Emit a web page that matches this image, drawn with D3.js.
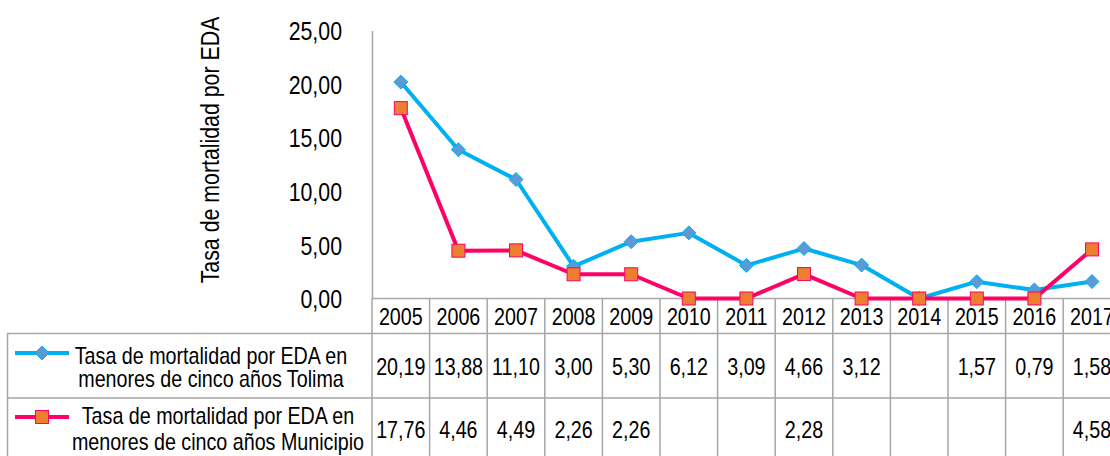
<!DOCTYPE html>
<html>
<head>
<meta charset="utf-8">
<script src="https://cdn.jsdelivr.net/npm/d3@7"></script>
<style>
  body { margin: 0; background: #fff; overflow: hidden; }
  text { font-family: 'Liberation Sans', Arial, sans-serif; fill: #000; }
</style>
</head>
<body>
<div id="chart"></div>
<script>
var years = ['2005','2006','2007','2008','2009','2010','2011','2012','2013','2014','2015','2016','2017']
// blank cells in the table are drawn as 0 on the chart
var tolima = [20.19, 13.88, 11.10, 3.00, 5.30, 6.12, 3.09, 4.66, 3.12, null, 1.57, 0.79, 1.58]
var municipio = [17.76, 4.46, 4.49, 2.26, 2.26, null, null, 2.28, null, null, null, null, 4.58]
var yTicks = [0, 5, 10, 15, 20, 25]
var seriesNames = [
  ['Tasa de mortalidad por EDA en', 'menores de cinco años Tolima'],
  ['Tasa de mortalidad por EDA en', 'menores de cinco años Municipio']
]
var yTitle = 'Tasa de mortalidad por EDA'

var W = 1110, H = 456
var left = 372, colW = 57.6
var grid = '#a6a6a6'

var es = d3.formatLocale({decimal: ',', thousands: '.', grouping: [3], currency: ['', '']})
var fmt = es.format('.2f')

// no Arial Narrow here, so squeeze the regular font
function narrow(sel) {
  sel.each(function() {
    var w = this.getComputedTextLength()
    if (w > 0) d3.select(this).attr('textLength', w * 0.82).attr('lengthAdjust', 'spacingAndGlyphs')
  })
}

var svg = d3.select('#chart').append('svg')
    .attr('width', W)
    .attr('height', H)

var x = d3.scaleBand().domain(years).range([left, left + colW * years.length])
var y = d3.scaleLinear().domain([0, 25]).range([298.5, 30.5])

// y axis
var yAxis = d3.axisLeft(y).tickValues(yTicks).tickSize(0).tickPadding(30).tickFormat(fmt)
var gy = svg.append('g').attr('transform', 'translate(' + left + ',0)').call(yAxis)
gy.select('.domain').attr('stroke', grid).attr('stroke-width', 1.5)
gy.selectAll('text').attr('font-family', null).style('font-size', '26px').attr('dy', '0.35em').call(narrow)

svg.append('text')
    .attr('transform', 'translate(219,' + 150 + ') rotate(-90)')
    .attr('text-anchor', 'middle')
    .style('font-size', '26px')
    .text(yTitle)
    .call(narrow)

// data table
var rowTop = [298.5, 333.5, 398, 470]
var tbl = svg.append('g')

tbl.append('line').attr('x1', left).attr('x2', W + 20).attr('y1', rowTop[0]).attr('y2', rowTop[0])
tbl.append('line').attr('x1', 7).attr('x2', W + 20).attr('y1', rowTop[1]).attr('y2', rowTop[1])
tbl.append('line').attr('x1', 7).attr('x2', W + 20).attr('y1', rowTop[2]).attr('y2', rowTop[2])
tbl.append('line').attr('x1', 7.5).attr('x2', 7.5).attr('y1', rowTop[1]).attr('y2', H + 10)

tbl.selectAll('.vline')
    .data(years.concat(['end']))
  .enter().append('line')
    .attr('class', 'vline')
    .attr('x1', function(d, i) { return left + i * colW })
    .attr('x2', function(d, i) { return left + i * colW })
    .attr('y1', rowTop[0])
    .attr('y2', H + 10)
tbl.selectAll('line').attr('stroke', grid).attr('stroke-width', 1.5)

tbl.selectAll('.year')
    .data(years)
  .enter().append('text')
    .attr('class', 'year')
    .attr('x', function(d) { return x(d) + x.bandwidth() / 2 })
    .attr('y', 325)
    .attr('text-anchor', 'middle')
    .style('font-size', '24px')
    .text(function(d) { return d })
    .call(narrow)

var rows = [tolima, municipio]
var rowBase = [375, 438]
rows.forEach(function(vals, r) {
  tbl.selectAll('.val' + r)
      .data(vals)
    .enter().append('text')
      .attr('class', 'val' + r)
      .attr('x', function(d, i) { return x(years[i]) + x.bandwidth() / 2 })
      .attr('y', rowBase[r])
      .attr('text-anchor', 'middle')
      .style('font-size', '24px')
      .text(function(d) { return d == null ? '' : fmt(d) })
      .call(narrow)
})

// lines
var line = d3.line()
    .x(function(d, i) { return x(years[i]) + x.bandwidth() / 2 })
    .y(function(d) { return y(d == null ? 0 : d) })

var colors = ['#00b0f0', '#ff0066']
var markFill = ['#5b9bd5', '#ed7d31']

function marker(g, r, cx, cy) {
  if (r == 0) {
    g.append('path')
        .attr('d', 'M' + cx + ',' + (cy - 7) + 'L' + (cx + 7) + ',' + cy + 'L' + cx + ',' + (cy + 7) + 'L' + (cx - 7) + ',' + cy + 'Z')
        .attr('fill', markFill[0])
        .attr('stroke', colors[0])
        .attr('stroke-width', 1)
  } else {
    g.append('rect')
        .attr('x', cx - 6.5).attr('y', cy - 6.5)
        .attr('width', 13).attr('height', 13)
        .attr('fill', markFill[1])
        .attr('stroke', colors[1])
        .attr('stroke-width', 1)
  }
}

rows.forEach(function(vals, r) {
  var g = svg.append('g')
  g.append('path')
      .datum(vals)
      .attr('d', line)
      .attr('fill', 'none')
      .attr('stroke', colors[r])
      .attr('stroke-width', 4)
      .attr('stroke-linejoin', 'round')
  vals.forEach(function(d, i) {
    marker(g, r, x(years[i]) + x.bandwidth() / 2, y(d == null ? 0 : d))
  })
})

// legend cells
var legY = [353, 417]
var legText = [[364, 387], [424, 450]]
seriesNames.forEach(function(lines, r) {
  var g = svg.append('g')
  g.append('line')
      .attr('x1', 15).attr('x2', 69)
      .attr('y1', legY[r]).attr('y2', legY[r])
      .attr('stroke', colors[r]).attr('stroke-width', 4)
  marker(g, r, 42, legY[r])
  lines.forEach(function(t, k) {
    g.append('text')
        .attr('x', r == 0 ? 211 : 218)
        .attr('y', legText[r][k])
        .attr('text-anchor', 'middle')
        .style('font-size', '24px')
        .text(t)
        .call(narrow)
  })
})
</script>
</body>
</html>
